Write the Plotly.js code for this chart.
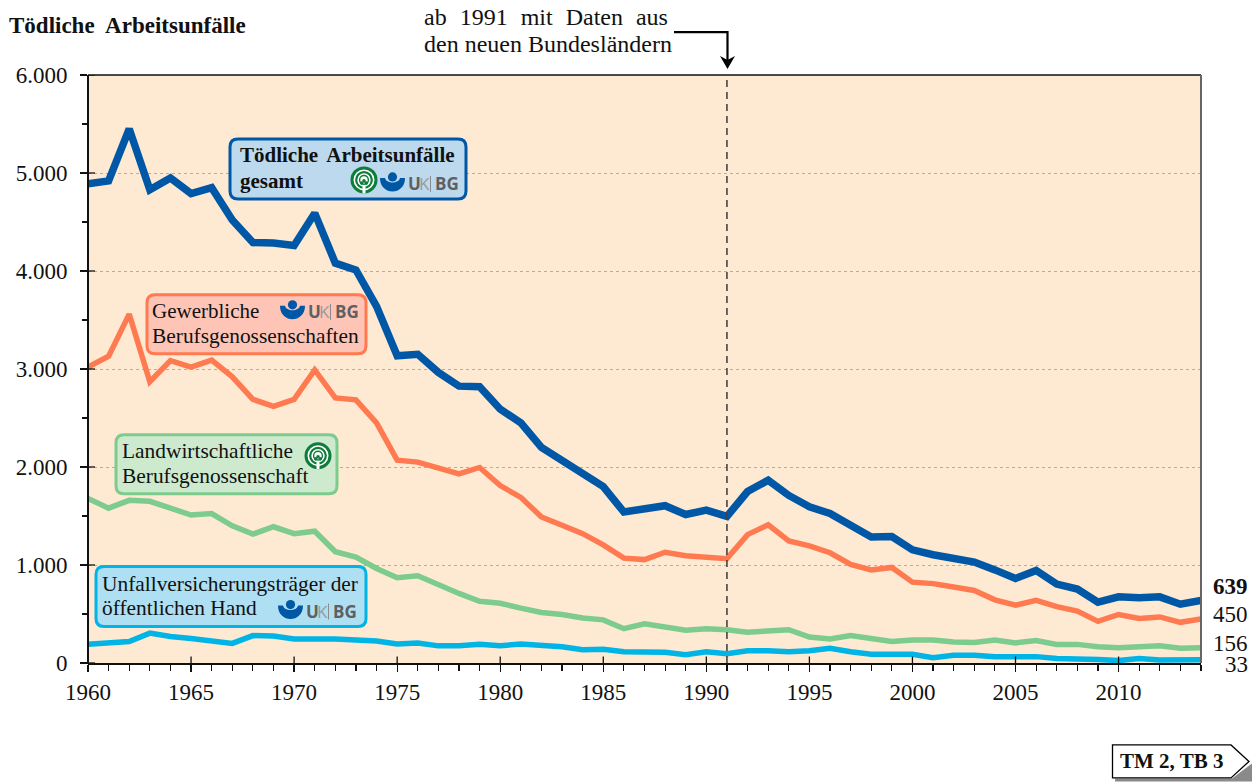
<!DOCTYPE html>
<html><head><meta charset="utf-8">
<script src="https://cdn.plot.ly/plotly-3.0.1.min.js"></script>
<style>html,body{margin:0;padding:0;background:#fff}#c{width:1252px;height:782px}</style>
</head><body><div id="c"></div>
<script>
const years = [];
for (let y = 1960; y <= 2014; y++) years.push(y);
const gesamt = [4890,4920,5450,4830,4950,4790,4850,4520,4290,4285,4260,4590,4080,4010,3640,3135,3150,2965,2825,2820,2590,2450,2200,2070,1920,1800,1540,1570,1605,1515,1560,1496,1750,1865,1710,1595,1525,1405,1285,1290,1155,1105,1070,1030,950,863,945,805,755,620,675,665,675,600,639];
const gewerblich = [3020,3130,3560,2870,3085,3020,3090,2920,2690,2620,2690,2990,2705,2685,2450,2070,2050,1990,1930,1995,1810,1690,1490,1405,1320,1205,1070,1055,1130,1095,1085,1065,1310,1410,1245,1195,1125,1005,950,975,825,810,775,740,645,590,640,575,530,425,495,455,470,415,450];
const landwirtschaft = [1680,1580,1660,1650,1580,1510,1525,1400,1315,1390,1320,1345,1135,1080,965,870,890,795,710,630,610,560,515,495,460,440,350,400,365,335,350,340,315,325,340,265,245,280,245,220,235,235,215,210,235,205,230,190,190,165,155,165,175,150,156];
const oeffentlich = [190,200,220,305,270,250,225,200,280,275,245,250,245,235,225,195,205,175,175,190,175,195,180,165,135,140,115,110,110,85,115,95,125,125,115,125,150,115,90,90,90,55,80,80,65,65,65,45,45,35,25,45,30,33,33];
const yTicks = [0,1000,2000,3000,4000,5000,6000];
const yLabels = ['0','1.000','2.000','3.000','4.000','5.000','6.000'];
const xTicks = [1960,1965,1970,1975,1980,1985,1990,1995,2000,2005,2010];

const W=1252,H=782,L=88,R=1201,T=75,B=663.5;
const SERIF='"Liberation Serif","Times New Roman",serif';
const BLUE='#0057a6',ORANGE='#ff7a50',GREEN='#7dcb8d',CYAN='#00b4e6';
const px=x=>(x-L)/(R-L), py=y=>(B-y)/(B-T);
function P(s){return s.replace(/(-?[\d.]+)[, ](-?[\d.]+)/g,(m,a,b)=>px(+a).toFixed(5)+','+py(+b).toFixed(5));}
const shapes=[], ann=[];
function path(d,fill,lc,lw){shapes.push({type:'path',xref:'paper',yref:'paper',path:P(d),fillcolor:fill||'rgba(0,0,0,0)',line:{color:lc||'rgba(0,0,0,0)',width:lw||0},layer:'above'});}
function circ(cx,cy,r,fill,lc,lw){shapes.push({type:'circle',xref:'paper',yref:'paper',x0:px(cx-r),x1:px(cx+r),y0:py(cy+r),y1:py(cy-r),fillcolor:fill||'rgba(0,0,0,0)',line:{color:lc||'rgba(0,0,0,0)',width:lw||0},layer:'above'});}
function round(x0,y0,x1,y1,r,fill,lc,lw){
 path(`M${x0+r},${y0} L${x1-r},${y0} Q${x1},${y0} ${x1},${y0+r} L${x1},${y1-r} Q${x1},${y1} ${x1-r},${y1} L${x0+r},${y1} Q${x0},${y1} ${x0},${y1-r} L${x0},${y0+r} Q${x0},${y0} ${x0+r},${y0} Z`,fill,lc,lw);
}
function txt(x,y,t,size,opt){opt=opt||{};
 const s=opt.ws?`<span style="word-spacing:${opt.ws}px">${t}</span>`:t;
 ann.push({xref:'paper',yref:'paper',x:px(x),y:py(y),text:s,showarrow:false,xanchor:opt.a||'left',yanchor:'middle',align:opt.a||'left',font:{family:opt.f||SERIF,size:size,color:opt.c||'#111'},borderpad:0});}
function treeLogo(cx,cy){
 const g='#0e7d3a';
 circ(cx,cy,12,'#fff',g,3);circ(cx,cy,7.8,null,g,2.2);circ(cx,cy,4.4,null,g,1.4);
 circ(cx,cy+1,1.8,g);circ(cx-2.3,cy+3.2,1.8,g);circ(cx+2.3,cy+3.2,1.8,g);
 path(`M${cx-1.5},${cy+5.5} L${cx+1.5},${cy+5.5} L${cx+1.5},${cy+13.5} L${cx-1.5},${cy+13.5} Z`,'#fff');
}
function ukbg(x,y){ // x = left of blue bowl, y = top of the dot
 path(`M${x},${y+6} L${x+5},${y+6} C${x+6},${y+12} ${x+19},${y+12} ${x+20},${y+6} L${x+25},${y+6} C${x+25},${y+24} ${x},${y+24} ${x},${y+6} Z`,BLUE);
 circ(x+12.5,y+5,4.6,BLUE);
 txt(x+27,y+12,'<b>U</b>',17,{f:'"Open Sans",sans-serif',c:'#5f6062'});
 txt(x+38,y+12,'K',17,{f:'"Open Sans",sans-serif',c:'#9a9a9a'});
 path(`M${x+50.5},${y+4} L${x+50.5},${y+20}`,null,'#8a8a8a',1);
 txt(x+54,y+12,'<b>BG</b>',17,{f:'"Open Sans",sans-serif',c:'#5f6062'});
}
path(`M${L},${T} L${R},${T}`,null,'#111',1.5);
path(`M${R},${T} L${R},${B}`,null,'#666',2);
path(`M${L},${T} L${L},${B+1}`,null,'#111',2);
yTicks.forEach(v=>shapes.push({type:'line',xref:'paper',yref:'y',x0:0,x1:px(95),y0:v,y1:v,line:{color:'#111',width:1.3},layer:'above'}));
xTicks.forEach(v=>shapes.push({type:'line',xref:'x',yref:'paper',x0:v,x1:v,y0:0,y1:py(657),line:{color:'#111',width:1.3},layer:'above'}));
shapes.push({type:'line',xref:'x',yref:'paper',x0:1991,x1:1991,y0:0,y1:1,line:{color:'#444',width:1.6,dash:'7px,5px'},layer:'above'});
path(`M674,32 L727.5,32 L727.5,62`,null,'#000',2.2);
path(`M720,56 L727.5,60 L735,56 L727.5,69 Z`,'#000');
txt(423,17,'ab 1991 mit Daten aus',24,{ws:7});
txt(423,44,'den neuen Bundesländern',24);
txt(8,25,'<b>Tödliche Arbeitsunfälle</b>',23,{ws:6});
round(230,139,466,199,8,'#bcd9ee',BLUE,3);
txt(239,155,'<b>Tödliche Arbeitsunfälle</b>',21,{ws:4});
txt(239,181,'<b>gesamt</b>',21);
treeLogo(364,180);ukbg(380,172);
round(147,295,366,354,8,'#fec5b7',ORANGE,3);
txt(151,311,'Gewerbliche',21);
txt(151,336,'Berufsgenossenschaften',21.4);
ukbg(280,300);
round(116,435,337,494,8,'#cdeacf',GREEN,3);
txt(121,451,'Landwirtschaftliche',21.4);
txt(121,476,'Berufsgenossenschaft',21.4);
treeLogo(318,456);
round(96,567,366,627,8,'#aedff2',CYAN,3);
txt(101,584,'Unfallversicherungsträger der',21.4);
txt(101,608,'öffentlichen Hand',21.4);
ukbg(278,600);
txt(1212,587,'<b>639</b>',23);
txt(1212,615,'450',23);
txt(1212,644,'156',23);
txt(1224,665,'33',23);
path(`M1115,779 L1232,779 L1252,764 L1252,782 L1115,782 Z`,'#8a8a8a');
path(`M1112.5,745.5 L1231,745.5 L1249,762 L1231,778.5 L1112.5,778.5 Z`,'#fff','#000',1.3);
txt(1119,762,'<b>TM 2, TB 3</b>',21);

const tr=(y,c,w,n)=>({x:years,y:y,name:n,type:'scatter',mode:'lines',cliponaxis:false,hoverinfo:'skip',line:{color:c,width:w,shape:'linear'}});
const data=[tr(oeffentlich,CYAN,5.5,'Unfallversicherungsträger der öffentlichen Hand'),tr(landwirtschaft,GREEN,5.5,'Landwirtschaftliche Berufsgenossenschaft'),tr(gewerblich,ORANGE,5.5,'Gewerbliche Berufsgenossenschaften'),tr(gesamt,BLUE,7.5,'Tödliche Arbeitsunfälle gesamt')];
const layout={width:W,height:H,showlegend:false,paper_bgcolor:'#fff',plot_bgcolor:'#feead2',
 margin:{l:L,r:W-R,t:T,b:H-B,pad:0},font:{family:SERIF,color:'#111'},
 xaxis:{range:[1960,2014],tickmode:'array',tickvals:xTicks,ticktext:xTicks.map(String),ticks:'outside',ticklen:7,tickwidth:1.3,tickcolor:'#111',
  showgrid:false,zeroline:false,showline:true,linecolor:'#111',linewidth:2,tickfont:{size:23,family:SERIF,color:'#111'},tickangle:0,
  minor:{dtick:1,ticks:'outside',ticklen:6,tickwidth:1.2,tickcolor:'#111',showgrid:false}},
 yaxis:{range:[0,6000],tickmode:'array',tickvals:yTicks,ticktext:yLabels,ticks:'outside',ticklen:7,tickwidth:1.3,tickcolor:'#111',ticklabelstandoff:8,
  showgrid:true,gridcolor:'#b8ae9f',griddash:'dot',gridwidth:1,zeroline:false,showline:false,tickfont:{size:23,family:SERIF,color:'#111'},
  minor:{dtick:500,ticks:'outside',ticklen:5,tickwidth:1.2,tickcolor:'#111',showgrid:false}},
 shapes:shapes,annotations:ann};
Plotly.newPlot('c',data,layout,{displayModeBar:false,staticPlot:true});
</script></body></html>
